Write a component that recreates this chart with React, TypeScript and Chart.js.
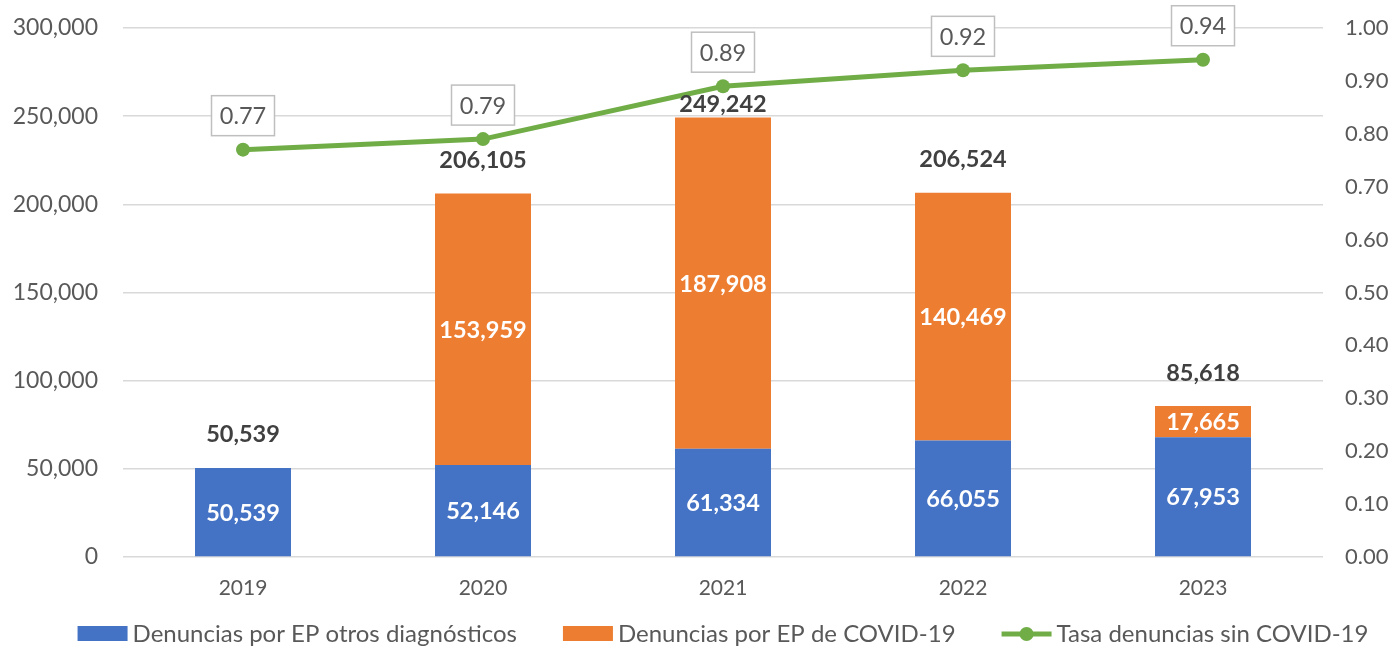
import React, { useEffect, useRef } from "react";
import { Chart, registerables } from "chart.js";

Chart.register(...registerables);

const FONT = "Lato, 'Open Sans', sans-serif";

const years = ["2019", "2020", "2021", "2022", "2023"];
const otrosDiagnosticos = [50539, 52146, 61334, 66055, 67953];
const covid19 = [null, 153959, 187908, 140469, 17665];
const tasaSinCovid = [0.77, 0.79, 0.89, 0.92, 0.94];
const totalLabelLift = [33, 33, 13, 33, 33];

const seriesNames = [
  "Denuncias por EP otros diagnósticos",
  "Denuncias por EP de COVID-19",
  "Tasa denuncias sin COVID-19",
];

const BLUE = "#4472C4";
const ORANGE = "#ED7D31";
const GREEN = "#70AD47";
const TEXT = "#595959";
const GRID = "#D9D9D9";

const fmt = (v: number) => v.toLocaleString("en-US");

const labelsPlugin = {
  id: "valueLabels",
  afterDatasetsDraw(chart: any) {
    const ctx = chart.ctx;
    ctx.save();
    ctx.textAlign = "center";
    ctx.textBaseline = "middle";
    ctx.font = `bold 23.5px ${FONT}`;
    [0, 1].forEach((di) => {
      const meta = chart.getDatasetMeta(di);
      meta.data.forEach((el: any, i: number) => {
        const v = chart.data.datasets[di].data[i];
        if (v == null) return;
        const p = el.getProps(["x", "y", "base"], true);
        ctx.fillStyle = "#FFFFFF";
        ctx.fillText(fmt(v), p.x, (p.y + p.base) / 2 + 1);
      });
    });
    const yScale = chart.scales.y;
    const meta0 = chart.getDatasetMeta(0);
    years.forEach((_, i) => {
      const total = (otrosDiagnosticos[i] || 0) + (covid19[i] || 0);
      const x = meta0.data[i].x;
      const y = yScale.getPixelForValue(total) - totalLabelLift[i];
      ctx.fillStyle = "#404040";
      ctx.fillText(fmt(total), x, y);
    });
    const meta2 = chart.getDatasetMeta(2);
    ctx.font = `23.5px ${FONT}`;
    meta2.data.forEach((pt: any, i: number) => {
      const txt = tasaSinCovid[i].toFixed(2);
      const w = 63;
      const h = 40;
      const cx = pt.x;
      const cy = pt.y - 34;
      ctx.fillStyle = "#FFFFFF";
      ctx.fillRect(cx - w / 2, cy - h / 2, w, h);
      ctx.strokeStyle = "#BFBFBF";
      ctx.lineWidth = 1.5;
      ctx.strokeRect(cx - w / 2, cy - h / 2, w, h);
      ctx.fillStyle = TEXT;
      ctx.fillText(txt, cx, cy + 1);
    });
    ctx.restore();
  },
};

const legendPlugin = {
  id: "customLegend",
  afterDraw(chart: any) {
    const ctx = chart.ctx;
    ctx.save();
    ctx.font = `24px ${FONT}`;
    ctx.textBaseline = "middle";
    ctx.textAlign = "left";
    const boxW = 50;
    const gapBoxText = 5;
    const gapItems = 46;
    const widths = seriesNames.map((n) => ctx.measureText(n).width);
    const total =
      widths.reduce((a, b) => a + b, 0) + 3 * (boxW + gapBoxText) + 2 * gapItems;
    const area = chart.chartArea;
    let x = (area.left + area.right) / 2 - total / 2;
    const y = 634;
    const colors = [BLUE, ORANGE, GREEN];
    seriesNames.forEach((name, i) => {
      if (i < 2) {
        ctx.fillStyle = colors[i];
        ctx.fillRect(x, y - 8, boxW, 15);
      } else {
        ctx.strokeStyle = GREEN;
        ctx.lineWidth = 5;
        ctx.beginPath();
        ctx.moveTo(x, y);
        ctx.lineTo(x + boxW, y);
        ctx.stroke();
        ctx.fillStyle = GREEN;
        ctx.beginPath();
        ctx.arc(x + boxW / 2, y, 7, 0, Math.PI * 2);
        ctx.fill();
      }
      x += boxW + gapBoxText;
      ctx.fillStyle = TEXT;
      ctx.fillText(name, x, y);
      x += widths[i] + gapItems;
    });
    ctx.restore();
  },
};

export default function App() {
  const ref = useRef<HTMLCanvasElement | null>(null);

  useEffect(() => {
    if (!ref.current) return;
    const chart = new Chart(ref.current, {
      type: "bar",
      data: {
        labels: years,
        datasets: [
          {
            type: "bar",
            label: seriesNames[0],
            data: otrosDiagnosticos,
            backgroundColor: BLUE,
            stack: "s",
            yAxisID: "y",
            categoryPercentage: 1,
            barPercentage: 0.4,
            order: 2,
          },
          {
            type: "bar",
            label: seriesNames[1],
            data: covid19 as any,
            backgroundColor: ORANGE,
            stack: "s",
            yAxisID: "y",
            categoryPercentage: 1,
            barPercentage: 0.4,
            order: 2,
          },
          {
            type: "line",
            label: seriesNames[2],
            data: tasaSinCovid,
            borderColor: GREEN,
            backgroundColor: GREEN,
            borderWidth: 5,
            pointRadius: 7,
            pointBackgroundColor: GREEN,
            pointBorderWidth: 0,
            yAxisID: "y1",
            tension: 0,
            order: 1,
          } as any,
        ],
      },
      options: {
        animation: false,
        responsive: true,
        maintainAspectRatio: false,
        layout: { padding: { top: 28, bottom: 46, left: 0, right: 0 } },
        plugins: {
          legend: { display: false },
          tooltip: { enabled: false },
        },
        scales: {
          x: {
            stacked: true,
            grid: { display: false, drawTicks: false },
            border: { display: false },
            ticks: {
              color: TEXT,
              font: { family: FONT, size: 21 },
              padding: 19,
            },
            afterFit: (s: any) => {
              s.height = 46;
            },
          },
          y: {
            stacked: true,
            position: "left",
            min: 0,
            max: 300000,
            ticks: {
              stepSize: 50000,
              color: TEXT,
              font: { family: FONT, size: 23 },
              padding: 25,
              callback: (v: any) => fmt(Number(v)),
            },
            grid: { color: GRID, lineWidth: 1.5, drawTicks: false },
            border: { display: false },
            afterFit: (s: any) => {
              s.width = 123;
              s.paddingTop = 0;
              s.paddingBottom = 0;
            },
          },
          y1: {
            position: "right",
            min: 0,
            max: 1,
            ticks: {
              stepSize: 0.1,
              color: TEXT,
              font: { family: FONT, size: 22 },
              padding: 22,
              callback: (v: any) => Number(v).toFixed(2),
            },
            grid: { drawOnChartArea: false, drawTicks: false },
            border: { display: false },
            afterFit: (s: any) => {
              s.width = 69;
              s.paddingTop = 0;
              s.paddingBottom = 0;
            },
          },
        },
      },
      plugins: [labelsPlugin, legendPlugin],
    });
    return () => chart.destroy();
  }, []);

  return (
    <div
      style={{
        position: "fixed",
        left: 0,
        top: 0,
        width: 1392,
        height: 649,
        background: "#FFFFFF",
      }}
    >
      <canvas ref={ref} />
    </div>
  );
}
